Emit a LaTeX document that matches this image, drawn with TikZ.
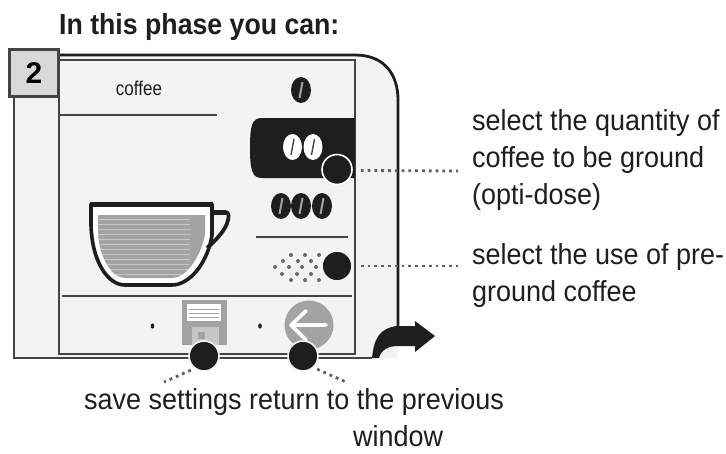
\documentclass[tikz,border=0pt]{standalone}
\usepackage{fontspec}
\setmainfont{Liberation Sans}
\usetikzlibrary{arrows.meta}
\definecolor{panel}{HTML}{F3F3F3}
\definecolor{framec}{HTML}{444444}
\definecolor{ink}{HTML}{1E1E1E}
\definecolor{midg}{HTML}{A3A3A3}
\tikzset{
  x=1pt,y=-1pt,
  frameline/.style={draw=framec,line width=2.8pt},
  thin rule/.style={draw=framec,line width=1.4pt},
  callout/.style={circle,fill=ink,draw=white,line width=1.6pt,minimum size=30pt,inner sep=0pt},
  leader/.style={draw=framec!85,line width=2.8pt,dash pattern=on 2.8pt off 4pt},
  label text/.style={font=\fontsize{29}{37}\selectfont,text=ink,inner sep=0pt,align=left,anchor=north west,xscale=.93},
}
\newcommand{\blackbean}[2]{%
  \fill[ink] (#1,#2) ellipse [x radius=10,y radius=13];
  \draw[midg,line width=2pt] (#1+1.5,#2-8) -- (#1-1.5,#2+8);
}
\newcommand{\whitebean}[2]{%
  \fill[white] (#1,#2) ellipse [x radius=9.5,y radius=13];
  \draw[framec,line width=1.4pt] (#1+1.5,#2-8) -- (#1-1.5,#2+8);
}
\begin{document}
\begin{tikzpicture}
\useasboundingbox (0,0) rectangle (726,453);
\fill[white] (0,0) rectangle (726,453);
% housing
\fill[panel] (14,56) -- (355,56) .. controls (385,56) and (398,75) .. (398,100) -- (398,358) -- (14,358) -- cycle;
\draw[draw=ink,line width=2.8pt] (58,55) -- (355,55) .. controls (385,55) and (398,75) .. (398,100) -- (398,336);
\draw[frameline] (14,97) -- (14,358) -- (190,358);
\draw[frameline] (218,358) -- (290,358);
\draw[frameline] (318,358) -- (372,358);
% screen
\draw[thin rule] (59,60) rectangle (355,354);
% number badge
\node[draw=framec,fill=black!15,line width=2.4pt,minimum width=49pt,minimum height=47pt,inner sep=0pt,font=\bfseries\fontsize{30}{30}\selectfont] (badge) at (34,73) {2};
% screen text and rules
\node[font=\fontsize{20}{20}\selectfont,xscale=.85,text=ink,inner sep=0pt] (coffee) at (139,88) {coffee};
\draw[thin rule] (60,115) -- (217,115);
\draw[thin rule] (256,237) -- (348,237);
\draw[thin rule] (62,296) -- (352,296);
% bean rows
\blackbean{301}{90}
\fill[ink] (355,118) -- (262,118) .. controls (252,118) and (250,125) .. (250,148) .. controls (250,170) and (252,178) .. (262,178) -- (355,178) -- cycle;
\whitebean{292.5}{147}
\whitebean{313}{147}
\blackbean{281}{206}
\blackbean{301}{206}
\blackbean{322}{206}
% ground coffee dots
\foreach \x/\y in {291/255, 305/255, 319/255, 283/261, 298/261, 311/261, 275/267, 289/267, 302/267, 316/267, 282/274, 297/274, 311/274, 291/280, 305/280, 319/280}
  \fill[framec!80] (\x,\y) circle (2);
% cup
\fill[white] (91,204) -- (211,204) -- (211,235) .. controls (208,262) and (190,284) .. (172,284) -- (125,284) .. controls (108,284) and (92,262) .. (91,225) -- cycle;
\fill[midg] (98,215) -- (205,215) -- (205,235) .. controls (200,258) and (186,278) .. (172,278) -- (125,278) .. controls (112,278) and (99,258) .. (98,232) -- cycle;
\begin{scope}
\clip (98,215) -- (205,215) -- (205,235) .. controls (200,258) and (186,278) .. (172,278) -- (125,278) .. controls (112,278) and (99,258) .. (98,232) -- cycle;
\foreach \y in {219,224,...,274} \draw[black!22,line width=.8pt] (96,\y) -- (190,\y);
\end{scope}
\draw[ink,line width=3.6pt,line join=round] (91,204) -- (212,204) -- (212,235) .. controls (208,262) and (190,285) .. (172,285) -- (125,285) .. controls (108,285) and (92,262) .. (91,225) -- cycle;
\draw[ink,line width=5pt] (90,204) -- (213,204);
\draw[ink,line width=5pt] (212,212) -- (226,212);
\draw[ink,line width=3.8pt,line join=round] (225,212) .. controls (229,212) and (229,216) .. (228,220) .. controls (226,230) and (216,240) .. (207,248);
% soft keys
\fill[ink] (152.5,326) ellipse [x radius=1.8,y radius=2.6];
\fill[ink] (260,326) ellipse [x radius=1.8,y radius=2.6];
\fill[midg] (182,300) rectangle (227,345);
\fill[white] (187,304) rectangle (221,321);
\foreach \y in {309,313,317} \draw[midg,line width=.7pt] (189,\y) -- (219,\y);
\fill[black!22] (192,327) rectangle (219,345);
\fill[midg] (198,332) rectangle (205,339);
\fill[midg] (309,325) circle (24.5);
\draw[white,line width=3.6pt,line cap=round,line join=round] (326,325) -- (292,325) (306,311) -- (291,325) -- (306,340);
% callouts
\node[callout] (c1) at (337,169.5) {};
\node[callout,draw=panel] (c2) at (337,266) {};
\node[callout,draw=panel] (c3) at (204,356) {};
\node[callout,draw=panel] (c4) at (303,356) {};
% arrow
\fill[ink] (372,358) .. controls (374,338) and (380,328) .. (397,326) -- (415,326) -- (415,321) -- (435,336) -- (415,352) -- (415,346) -- (398,346) .. controls (388,346) and (381,350) .. (379,358) -- cycle;
% leader ends
\coordinate (e1) at (458,171);
\coordinate (e2) at (458,266);
\coordinate (e3) at (164,382);
\coordinate (e4) at (346,382);
\draw[leader] (c1.east) ++(8,1) -- (e1);
\draw[leader] (c2.east) ++(8,0) -- (e2);
\draw[leader] (c3.south west) ++(-2,3) -- (e3);
\draw[leader] (c4.south east) ++(3,2) -- (e4);
% text
\node[font=\bfseries\fontsize{29}{29}\selectfont,text=ink,inner sep=0pt,anchor=west,xscale=.92] (title) at (59,27) {In this phase you can:};
\node[label text] (t1) at (472,109) {select the quantity of\\coffee to be ground\\(opti-dose)};
\node[label text] (t2) at (472,243) {select the use of pre-\\ground coffee};
\node[label text,anchor=west] (t3) at (84,402) {save settings return to the previous};
\node[label text,anchor=west] (t4) at (353,436) {window};
\end{tikzpicture}
\end{document}
